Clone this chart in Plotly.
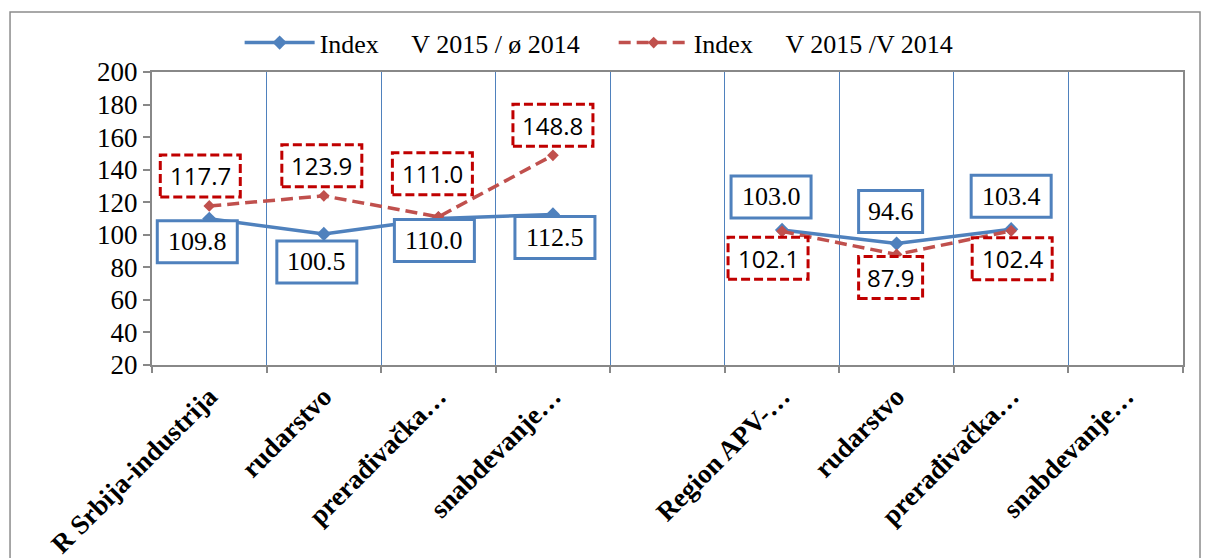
import plotly.graph_objects as go

# ---- data ----
categories = ["R Srbija-industrija", "rudarstvo", "prerađivačka…", "snabdevanje…", "",
              "Region APV-…", "rudarstvo", "prerađivačka…", "snabdevanje…"]
index_avg = [109.8, 100.5, 110.0, 112.5, None, 103.0, 94.6, 103.4, None]   # V 2015 / ø 2014
index_v = [117.7, 123.9, 111.0, 148.8, None, 102.1, 87.9, 102.4, None]     # V 2015 / V 2014
y_ticks = [20, 40, 60, 80, 100, 120, 140, 160, 180, 200]
series_names = ["Index\u00a0\u00a0\u00a0\u00a0\u00a0V 2015 / ø 2014",
                "Index\u00a0\u00a0\u00a0\u00a0\u00a0V 2015 /V 2014"]

# ---- label placement (pixel offsets of label box centre from the point; +dy = down) ----
blue_dx = [-12, -7, -4, 2, 0, -11, -6, 0, 0]
blue_dy = [23, 28, 22, 23, 0, -33, -32, -33, 0]
red_dx = [-9, -2, -6, 0, 0, -14, -6, 1, 0]
red_dy = [-30, -30, -43, -30, 0, 27, 23, 28, 0]

BLUE = "#4F81BD"
RED = "#C0504D"
RED_BOX = "#C00000"
GREY = "#888888"
SERIF = "Liberation Serif, Times New Roman, serif"
SANS = "Open Sans, Liberation Sans, sans-serif"

x = list(range(len(categories)))

fig = go.Figure()
fig.add_trace(go.Scatter(
    x=x, y=index_avg, name=series_names[0], mode="lines+markers", legend="legend",
    line=dict(color=BLUE, width=3.5), marker=dict(symbol="diamond", size=11, color=BLUE),
    connectgaps=False))
fig.add_trace(go.Scatter(
    x=x, y=index_v, name=series_names[1], mode="lines+markers", legend="legend2",
    line=dict(color=RED, width=3.5, dash="12px,6px"), marker=dict(symbol="diamond", size=9, color=RED),
    connectgaps=False))

shapes = []
annotations = []
BOX_H = 42


def add_label(i, val, dx, dy, border, dash, font):
    txt = f"{val:.1f}"
    w = 16 * len(txt)
    shapes.append(dict(
        type="rect", xref="x", yref="y", xsizemode="pixel", ysizemode="pixel",
        xanchor=i, yanchor=val,
        x0=dx - w / 2, x1=dx + w / 2, y0=-dy - BOX_H / 2, y1=-dy + BOX_H / 2,
        line=dict(color=border, width=3, dash=dash), fillcolor="white", layer="above"))
    annotations.append(dict(
        x=i, y=val, xref="x", yref="y", text=txt, showarrow=False,
        xshift=dx, yshift=-dy, font=font, xanchor="center", yanchor="middle"))


for i, v in enumerate(index_avg):
    if v is not None:
        add_label(i, v, blue_dx[i], blue_dy[i], BLUE, "solid",
                  dict(family=SERIF, size=26, color="black"))
for i, v in enumerate(index_v):
    if v is not None:
        add_label(i, v, red_dx[i], red_dy[i], RED_BOX, "9px,4px",
                  dict(family=SANS, size=24, color="black"))

# outer chart border
shapes.append(dict(type="rect", xref="paper", yref="paper",
                   x0=-0.1377, x1=1.0165, y0=-0.75, y1=1.2048,
                   line=dict(color="#8C8C8C", width=1.5), fillcolor="rgba(0,0,0,0)", layer="below"))

legend_common = dict(orientation="h", yanchor="middle", y=1.10, xanchor="left",
                     font=dict(family=SERIF, size=26, color="black"), itemwidth=70,
                     bgcolor="rgba(0,0,0,0)")

fig.update_layout(
    width=1212, height=558,
    margin=dict(l=144, r=37, t=64, b=201, pad=0, autoexpand=False),
    paper_bgcolor="white", plot_bgcolor="white",
    font=dict(family=SERIF, size=24, color="black"),
    showlegend=True,
    legend=dict(x=0.085, **legend_common),
    legend2=dict(x=0.4478, **legend_common),
    shapes=shapes, annotations=annotations,
    xaxis=dict(
        range=[-0.5, len(categories) - 0.5], tickmode="array", tickvals=x, ticktext=categories,
        tickangle=-45, ticks="", showgrid=False, zeroline=False, ticklabelstandoff=3,
        automargin=False,
        showline=True, linecolor=GREY, linewidth=2, mirror=True,
        tickfont=dict(family=SERIF, size=27, color="black", weight="bold"),
        minor=dict(tickmode="array", tickvals=[k - 0.5 for k in range(len(categories) + 1)],
                   ticks="outside", ticklen=6, tickcolor=GREY, tickwidth=1.5,
                   showgrid=True, gridcolor=BLUE, gridwidth=1.2),
    ),
    yaxis=dict(
        range=[20, 200], tickmode="array", tickvals=y_ticks, ticks="outside", ticklen=7,
        tickcolor=GREY, tickwidth=1.5, showgrid=False, zeroline=False, automargin=False,
        showline=True, linecolor=GREY, linewidth=2, mirror=True,
        tickfont=dict(family=SERIF, size=27, color="black"),
    ),
)

fig.write_html("out.html")
